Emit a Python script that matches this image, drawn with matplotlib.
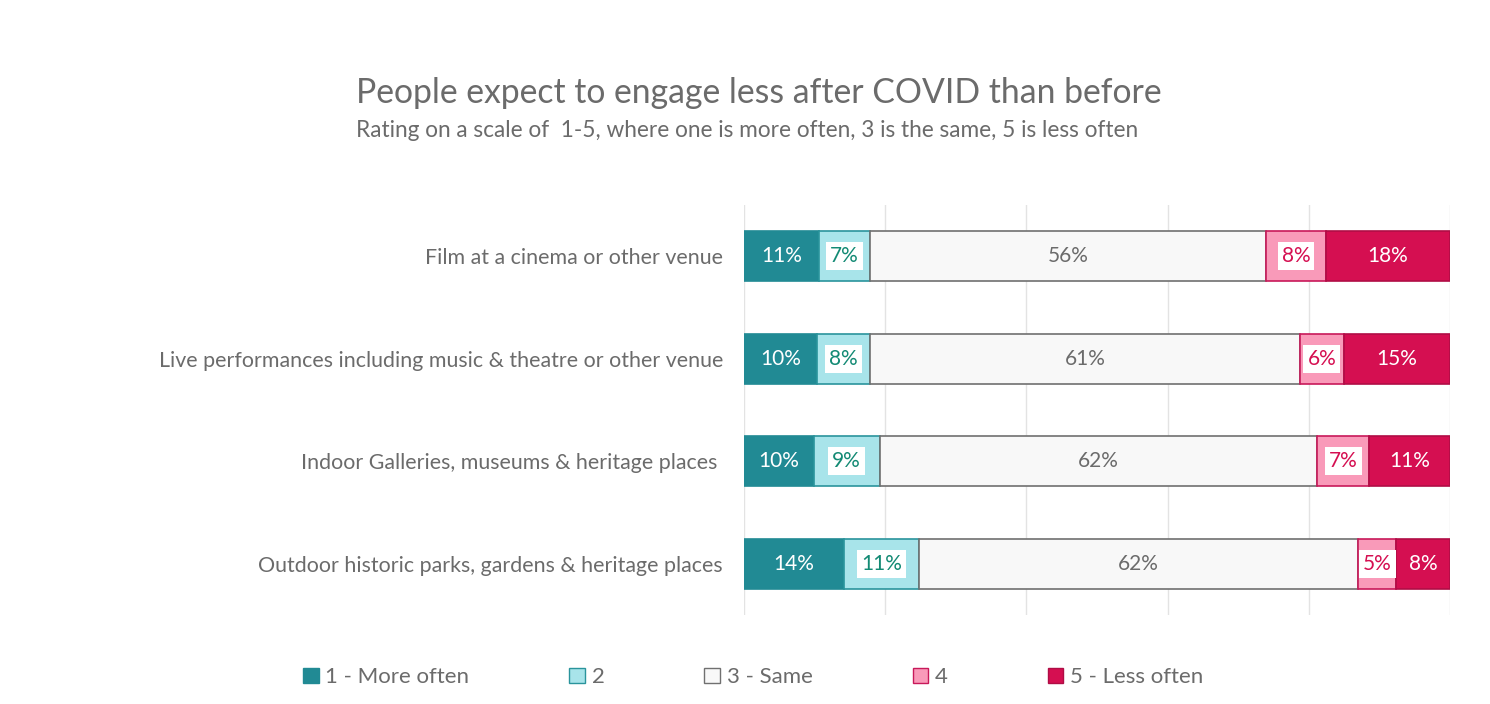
import numpy as np
import matplotlib.pyplot as plt
from matplotlib.patches import Patch

plt.rcParams['font.family'] = ['Lato', 'DejaVu Sans']

# categories, top to bottom
categories = ['Film at a cinema or other venue',
              'Live performances including music & theatre or other venue',
              'Indoor Galleries, museums & heritage places ',
              'Outdoor historic parks, gardens & heritage places']
series_names = ['1 - More often', '2', '3 - Same', '4', '5 - Less often']

# share of respondents (%) per rating, one list per rating
more_often = [10.6, 10.3, 9.9, 14.2]
rating2 = [7.2, 7.6, 9.3, 10.6]
same = [56.2, 60.8, 62.0, 62.2]
rating4 = [8.4, 6.3, 7.4, 5.4]
less_often = [17.6, 15.0, 11.4, 7.6]

face = ['#218A94', '#A8E4EA', '#F8F8F8', '#F99AB9', '#D50F51']
edge = ['#218A94', '#2A949C', '#707070', '#C8195A', '#B00D45']
txt = ['white', '#138A74', '#6B6B6B', '#D50F51', 'white']
boxed = [False, True, False, True, False]
grey = '#6B6B6B'

fig = plt.figure(figsize=(14.9, 7.04), dpi=100)
ax = fig.add_axes([0.4993, 0.1264, 0.4738, 0.5824])

y = np.arange(len(categories))
left = np.zeros(len(categories))
for i, vals in enumerate([more_often, rating2, same, rating4, less_often]):
    vals = np.array(vals)
    ax.barh(y, vals, left=left, height=0.49, color=face[i],
            edgecolor=edge[i], linewidth=1.2, label=series_names[i], zorder=3)
    for j, v in enumerate(vals):
        kw = {}
        if boxed[i]:
            kw['bbox'] = dict(facecolor='white', edgecolor='none', pad=3)
        ax.text(left[j] + v / 2, y[j], f'{int(round(v))}%', ha='center',
                va='center', fontsize=15, color=txt[i], zorder=4, **kw)
    left += vals

ax.set_xlim(0, 100)
ax.set_ylim(3.5, -0.5)
ax.set_xticks(np.arange(0, 101, 20))
ax.xaxis.grid(True, color='#E3E3E3', linewidth=1, zorder=0)
ax.tick_params(axis='x', length=0, labelbottom=False)
ax.tick_params(axis='y', length=0, pad=15, labelsize=15.4, labelcolor=grey)
ax.set_yticks(y)
ax.set_yticklabels(categories)
for s in ax.spines.values():
    s.set_visible(False)

fig.text(0.239, 0.868, 'People expect to engage less after COVID than before',
         fontsize=24.3, color=grey, va='center', ha='left')
fig.text(0.239, 0.814, 'Rating on a scale of  1-5, where one is more often, 3 is the same, 5 is less often',
         fontsize=16.3, color=grey, va='center', ha='left')

handles = [Patch(facecolor=face[i], edgecolor=edge[i], label=series_names[i])
           for i in range(5)]
fig.legend(handles=handles, loc='center left', bbox_to_anchor=(0.19, 0.038),
           ncol=5, frameon=False, fontsize=16, labelcolor=grey,
           handlelength=0.7, handleheight=0.7, handletextpad=0.3,
           columnspacing=4.5)

fig.savefig('out.png', dpi=100)
